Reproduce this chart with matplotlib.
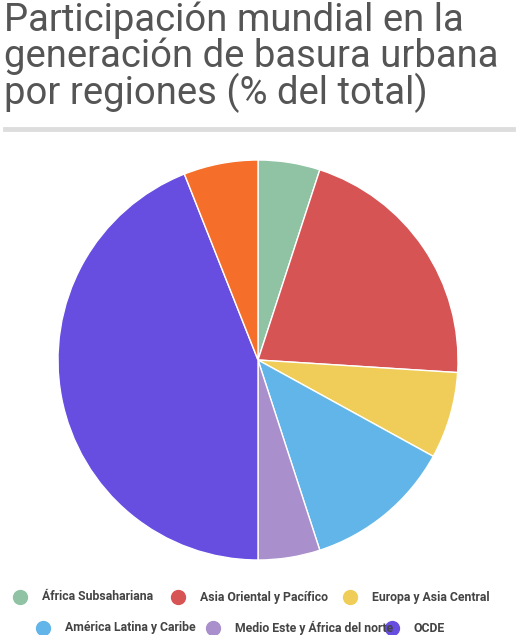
import matplotlib
matplotlib.use('Agg')
import matplotlib.pyplot as plt
from matplotlib.lines import Line2D

# --- data (clockwise from 12 o'clock) ---
labels = ['África Subsahariana', 'Asia Oriental y Pacífico', 'Europa y Asia Central',
          'América Latina y Caribe', 'Medio Este y África del norte', 'OCDE', 'Asia del Sur']
shares = [5, 21, 7, 12, 5, 44, 6]
colors = ['#8fc3a3', '#d75455', '#efcd58', '#62b5e9', '#a98fcb', '#674ee0', '#f56f2a']

fig = plt.figure(figsize=(5.16, 6.35), dpi=100)
plt.rcParams['font.family'] = ['Roboto', 'DejaVu Sans']

fig.text(0.008, 0.997, 'Participación mundial en la\ngeneración de basura urbana\npor regiones (% del total)',
         fontsize=27.5, color='#555555', va='top', ha='left', linespacing=0.93)
fig.add_artist(Line2D([0.01, 0.995], [0.797, 0.797], color='#dddddd', lw=3.5))

ax = fig.add_axes([0.5 - 200 / 516, 1 - 560 / 635, 400 / 516, 400 / 635])
ax.pie(shares, colors=colors, startangle=90, counterclock=False, radius=1,
       wedgeprops=dict(edgecolor='white', linewidth=1))
ax.set_xlim(-1, 1)
ax.set_ylim(-1, 1)
ax.set_aspect('equal')

rows = [[0, 1, 2], [3, 4, 5]]
xs = [[20, 178, 350], [43, 213, 392]]
ys = [1 - 597 / 635, 1 - 628 / 635]
for r, row in enumerate(rows):
    for c, i in enumerate(row):
        x = xs[r][c] / 516
        fig.add_artist(Line2D([x], [ys[r]], marker='o', markersize=10, color=colors[i], lw=0))
        fig.text(x + 22 / 516, ys[r], labels[i], fontsize=8.8, color='#444444',
                 va='center', ha='left', fontweight='bold')

fig.savefig('out.png', dpi=100)
